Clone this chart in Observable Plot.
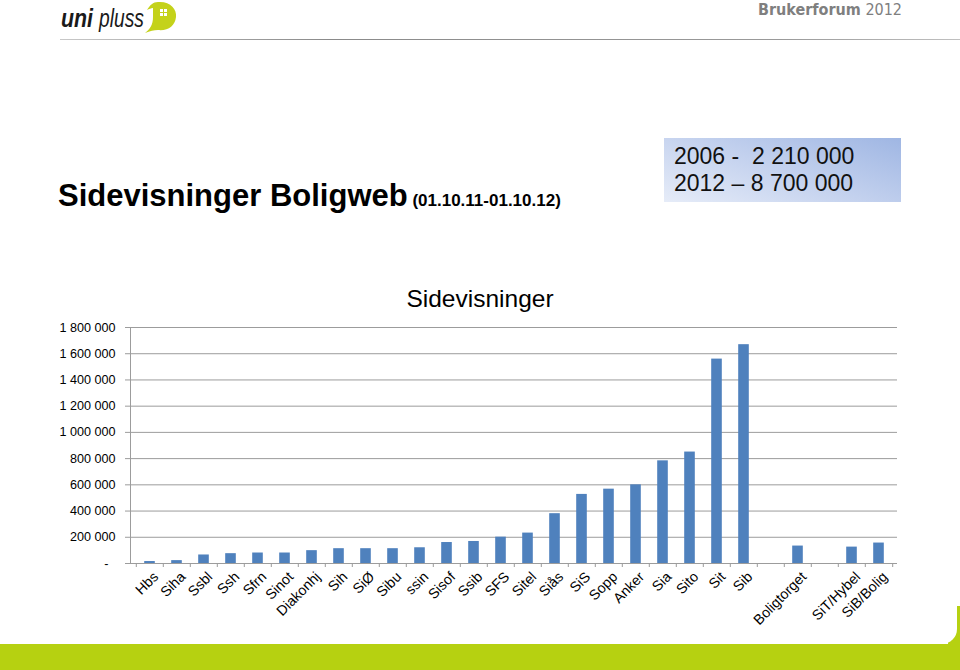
<!DOCTYPE html>
<html>
<head>
<meta charset="utf-8">
<script src="https://cdn.jsdelivr.net/npm/d3@7"></script>
<script src="https://cdn.jsdelivr.net/npm/@observablehq/plot@0.6"></script>
<style>
  html, body { margin: 0; padding: 0; background: #fff; }
  #page { position: relative; width: 960px; height: 670px; overflow: hidden; background: #fff; font-family: "Liberation Sans", Arial, sans-serif; }
  .abs { position: absolute; }
  #brand { left: 758px; top: 0px; font-family: "DejaVu Sans Condensed", "DejaVu Sans", sans-serif; font-stretch: condensed; font-size: 16px; color: #7f7f7f; white-space: pre; line-height: 20px; }
  #hline { left: 60px; top: 39px; width: 900px; height: 1px; background: linear-gradient(to right, #c8c8c8, #8a8a8a 30%, #9a9a9a 80%, #c0c0c0); }
  #title { left: 58px; top: 177px; font-weight: bold; font-size: 31px; color: #000; white-space: pre; line-height: 38px; }
  #title span { font-size: 17px; }
  #box { left: 664px; top: 138px; width: 237px; height: 64px; background: linear-gradient(200deg, #9fb6e3 0%, #c3d1ee 50%, #e6ecf8 100%); }
  #box div { position: absolute; left: 10px; font-size: 23px; color: #111; white-space: pre; line-height: 26px; }
  #ctitle { left: 0; width: 960px; top: 284px; text-align: center; font-size: 24.5px; color: #000; line-height: 30px; }
  #chart { left: 0; top: 280px; }
  #greenR { left: 948px; top: 606px; width: 12px; height: 64px; background: #b6d111; }
  #whiteR { left: 0; top: 560px; width: 957px; height: 84px; background: #fff; border-bottom-right-radius: 15px; }
  #greenB { left: 0; top: 644px; width: 960px; height: 26px; background: #b6d111; }
</style>
</head>
<body>
<div id="page">
  <div id="greenR" class="abs"></div>
  <div id="greenB" class="abs"></div>
  <div id="whiteR" class="abs"></div>
  <svg class="abs" style="left:58px;top:0px" width="125" height="36" viewBox="0 0 125 36">
    <text x="3" y="27" font-family="Liberation Sans, Arial, sans-serif" font-size="26" font-style="italic" font-weight="bold" fill="#1a1a1a" textLength="32" lengthAdjust="spacingAndGlyphs">uni</text>
    <text x="41" y="27" font-family="Liberation Sans, Arial, sans-serif" font-size="26" font-style="italic" fill="#1a1a1a" textLength="45" lengthAdjust="spacingAndGlyphs">pluss</text>
    <path d="M100 2 C112 1 119 9 118 17 C117 26 110 31 100 30 C96 30 92 31 87 33 C92 29 95 25 95 17 L95 8 C93 8 91 9 89 10 C92 5 95 2 100 2 Z" fill="#c4d21a"/>
    <rect x="102" y="9" width="3" height="3" fill="#fff"/><rect x="106" y="9" width="3" height="3" fill="#fff"/>
    <rect x="102" y="13" width="3" height="3" fill="#fff"/><rect x="106" y="13" width="3" height="3" fill="#fff"/>
  </svg>
  <div id="brand" class="abs"><b>Brukerforum</b> 2012</div>
  <div id="hline" class="abs"></div>
  <div id="title" class="abs">Sidevisninger Boligweb<span> (01.10.11-01.10.12)</span></div>
  <div id="box" class="abs">
    <div style="top:5px">2006 -  2 210 000</div>
    <div style="top:32px">2012 – 8 700 000</div>
  </div>
  <div id="ctitle" class="abs">Sidevisninger</div>
  <div id="chart" class="abs"></div>
</div>
<script>
const categories = ["Hbs","Siha","Ssbl","Ssh","Sfrn","Sinot","Diakonhj","Sih","SiØ","Sibu","ssin","Sisof","Ssib","SFS","Sitel","Siås","SiS","Sopp","Anker","Sia","Sito","Sit","Sib"," ","Boligtorget","  ","SiT/Hybel","SiB/Bolig"];
const values = [15000,22000,65000,75000,80000,80000,98000,113000,113000,113000,120000,160000,168000,201000,232000,380000,527000,567000,600000,783000,850000,1559000,1669000,null,133000,null,125000,156000];
const yTicks = [0,200000,400000,600000,800000,1000000,1200000,1400000,1600000,1800000];

const data = categories.map((c, i) => ({category: c, value: values[i]})).filter(d => d.value != null);

const W = 960, H = 360, ML = 130, MR = 63, MT = 47, MB = 77;
const bw = (W - ML - MR) / categories.length;
const gray = "#9c9c9c";
const fmt = d => d === 0 ? "-\u2007" : d3.format(",")(d).replace(/,/g, " ");

const chart = Plot.plot({
  width: W, height: H,
  marginLeft: ML, marginRight: MR, marginTop: MT, marginBottom: MB,
  style: {background: "transparent", fontFamily: "'Liberation Sans', Arial, sans-serif", fontSize: "12.4px", color: "#000", overflow: "visible"},
  x: {domain: categories, padding: 0, label: null},
  y: {domain: [0, 1800000], label: null},
  marks: [
    Plot.gridY(yTicks, {stroke: gray, strokeOpacity: 1}),
    Plot.frame({anchor: "left", stroke: gray}),
    Plot.ruleY([0], {stroke: gray}),
    Plot.axisY(yTicks, {tickSize: 5, tickPadding: 10, tickFormat: fmt, stroke: gray, fill: "#000", fontSize: 12.6, label: null}),
    Plot.axisX({tickSize: 4, dx: -bw / 2, text: null, stroke: gray, label: null}),
    Plot.axisX([categories[categories.length - 1]], {tickSize: 4, dx: bw / 2, text: null, stroke: gray, label: null}),
    Plot.barY(data, {x: "category", y: "value", fill: "#4f81bd", insetLeft: 8.2, insetRight: 8.2}),
    Plot.axisX({tickSize: 0, tickPadding: 11, dx: 6, tickRotate: -45, textAnchor: "end", fontSize: 14.2, tickFormat: d => d.trim(), fill: "#000", label: null})
  ]
});
document.getElementById("chart").appendChild(chart);
</script>
</body>
</html>
